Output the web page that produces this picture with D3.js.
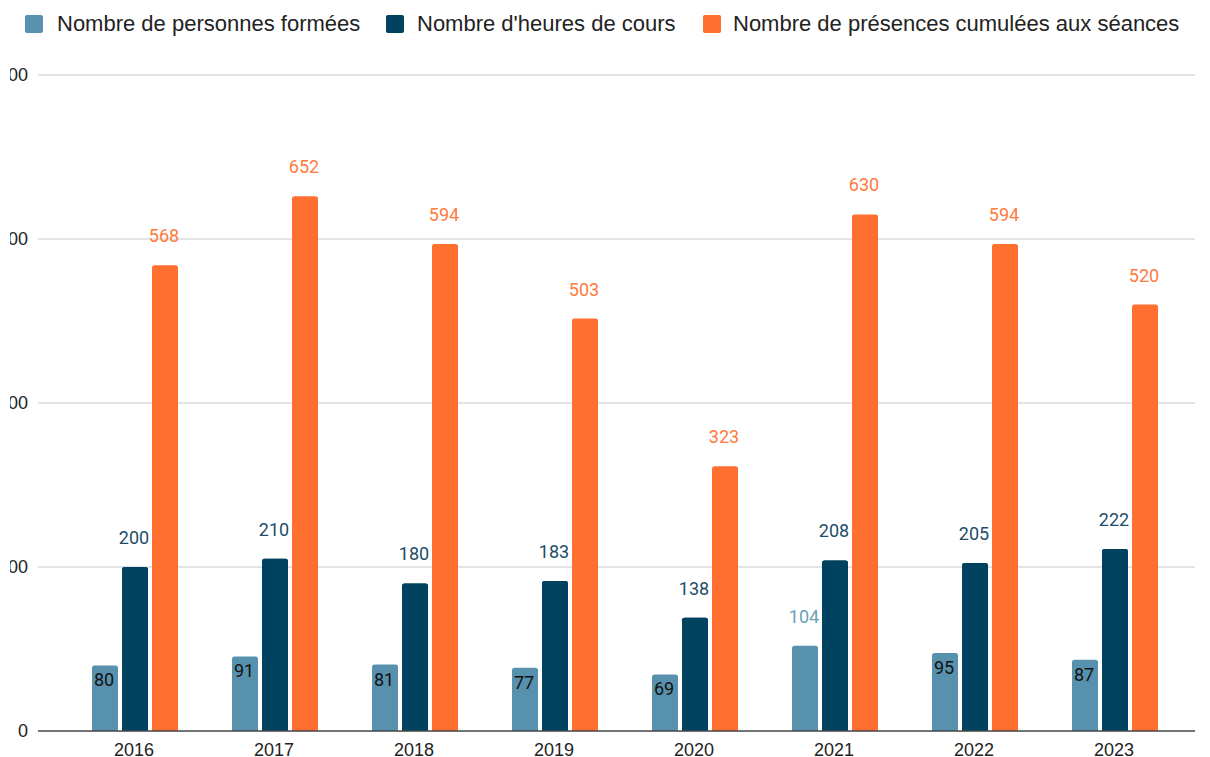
<!DOCTYPE html>
<html>
<head>
<meta charset="utf-8">
<script src="https://cdn.jsdelivr.net/npm/d3@7"></script>
<style>
  body { margin: 0; background: #fff; }
  svg { display: block; }
  .legendTxt { font-family: "Liberation Sans", Arial, sans-serif; font-size: 22px; fill: #222; }
  .axisTxt { font-family: "Liberation Sans", Arial, sans-serif; font-size: 18px; fill: #222; }
  .valTxt { font-family: Roboto, sans-serif; font-size: 18px; }
</style>
</head>
<body>
<div id="chart"></div>
<script>
var years = ["2016", "2017", "2018", "2019", "2020", "2021", "2022", "2023"];
var seriesNames = ["Nombre de personnes formées", "Nombre d'heures de cours", "Nombre de présences cumulées aux séances"];
var personnes = [80, 91, 81, 77, 69, 104, 95, 87];
var heures = [200, 210, 180, 183, 138, 208, 205, 222];
var presences = [568, 652, 594, 503, 323, 630, 594, 520];
var yTicks = [0, 200, 400, 600, 800];
var colors = ["#5891ad", "#004260", "#ff6f2f"];
var labelColors = ["#6a9fb8", "#1d4d68", "#ff7a3c"];

(function () {
  'use strict'
  var W = 1210, H = 757;
  var svg = d3.select("#chart").append("svg").attr("width", W).attr("height", H);

  var x = d3.scaleBand().domain(years).range([65, 1185]);
  var y = d3.scaleLinear().domain([0, 800]).range([731, 75]);
  // three bars of 26px with 4px gaps inside each year
  var sub = d3.scaleBand().domain([0, 1, 2]).range([-43, 43]).paddingInner(4 / 30).paddingOuter(0);

  // gridlines
  svg.append("g").selectAll("line")
    .data(yTicks.filter(function (d) { return d > 0; }))
    .enter().append("line")
    .attr("x1", 38).attr("x2", 1195)
    .attr("y1", function (d) { return y(d); })
    .attr("y2", function (d) { return y(d); })
    .attr("stroke", "#c8c8c8").attr("stroke-width", 1);

  // y labels (cut at the left edge like the original)
  svg.append("clipPath").attr("id", "yclip")
    .append("rect").attr("x", 10).attr("y", 0).attr("width", 30).attr("height", H);
  svg.append("g").attr("clip-path", "url(#yclip)")
    .selectAll("text").data(yTicks).enter().append("text")
    .attr("class", "axisTxt")
    .attr("x", 28).attr("y", function (d) { return y(d) + 6; })
    .attr("text-anchor", "end")
    .text(function (d) { return d; });

  var data = [personnes, heures, presences];

  function topRound(x0, y0, w, h, r) {
    r = Math.min(r, h);
    return "M" + x0 + "," + (y0 + h) + "V" + (y0 + r) + "Q" + x0 + "," + y0 + " " + (x0 + r) + "," + y0 +
      "H" + (x0 + w - r) + "Q" + (x0 + w) + "," + y0 + " " + (x0 + w) + "," + (y0 + r) + "V" + (y0 + h) + "Z";
  }

  data.forEach(function (vals, s) {
    var g = svg.append("g");
    g.selectAll("path").data(vals).enter().append("path")
      .attr("fill", colors[s])
      .attr("d", function (d, i) {
        var cx = x(years[i]) + x.bandwidth() / 2;
        return topRound(cx + sub(s), y(d), sub.bandwidth(), y(0) - y(d), 2.5);
      });

    g.selectAll("text").data(vals).enter().append("text")
      .attr("class", "valTxt")
      .attr("text-anchor", "middle")
      .attr("x", function (d, i) { return x(years[i]) + x.bandwidth() / 2 + sub(s) + sub.bandwidth() / 2 - 1; })
      .attr("y", function (d) {
        if (s == 0 && d < 100) return y(d) + 21;
        return y(d) - 23;
      })
      .attr("fill", function (d) {
        if (s == 0 && d < 100) return "#111";
        return labelColors[s];
      })
      .text(function (d) { return d; });
  });

  // the 104 label sits behind the next bar in the original, redraw dark bars over it
  svg.append("g").selectAll("path").data(heures).enter().append("path")
    .attr("fill", colors[1])
    .attr("d", function (d, i) {
      var cx = x(years[i]) + x.bandwidth() / 2;
      return topRound(cx + sub(1), y(d), sub.bandwidth(), y(0) - y(d), 2.5);
    });

  // baseline
  svg.append("line").attr("x1", 38).attr("x2", 1195)
    .attr("y1", y(0)).attr("y2", y(0))
    .attr("stroke", "#444").attr("stroke-width", 1.5);

  // x labels
  svg.append("g").selectAll("text").data(years).enter().append("text")
    .attr("class", "axisTxt")
    .attr("text-anchor", "middle")
    .attr("x", function (d) { return x(d) + x.bandwidth() / 2 - 1; })
    .attr("y", 756)
    .text(function (d) { return d; });

  // legend
  var legX = [25, 386, 703];
  var legTxtX = [57, 417, 733];
  var leg = svg.append("g");
  seriesNames.forEach(function (n, i) {
    leg.append("rect").attr("x", legX[i]).attr("y", 15).attr("width", 18).attr("height", 18)
      .attr("rx", 2).attr("fill", colors[i]);
    leg.append("text").attr("class", "legendTxt")
      .attr("x", legTxtX[i]).attr("y", 31).text(n);
  });
})()
</script>
</body>
</html>
